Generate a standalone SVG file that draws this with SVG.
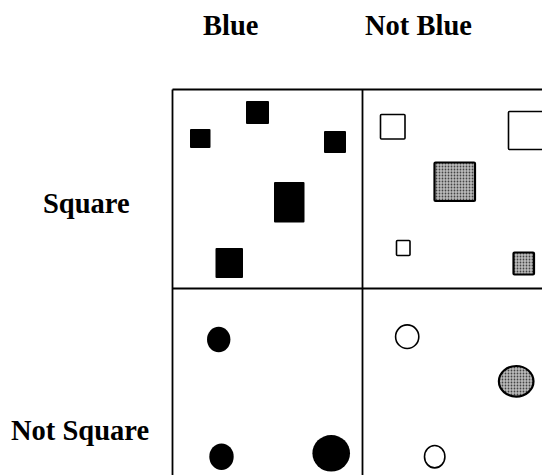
<svg xmlns="http://www.w3.org/2000/svg" width="542" height="475" viewBox="0 0 542 475">
<style>
.lbl{font-family:"Liberation Serif","Times New Roman",serif;font-weight:bold;font-size:28.5px;fill:#000}
.grid{stroke:#000;stroke-width:1.8;fill:none}
.solid{fill:#000}
.hollow{fill:#fff;stroke:#000;stroke-width:1.6}
.stip{fill:url(#dots);stroke:#000;stroke-width:2.2}
</style>
<defs>
<pattern id="dots" width="3" height="3" patternUnits="userSpaceOnUse">
<rect width="3" height="3" fill="#bbb"/>
<circle cx="1.5" cy="1.5" r="0.9" fill="#444"/>
</pattern>
</defs>
<rect width="542" height="475" fill="#fff"/>
<g id="labels">
<text class="lbl" x="203" y="35">Blue</text>
<text class="lbl" x="365" y="35">Not Blue</text>
<text class="lbl" x="43" y="213">Square</text>
<text class="lbl" x="11" y="440">Not Square</text>
</g>
<g id="grid" class="grid">
<line x1="172.5" y1="89.5" x2="542" y2="89.5"/>
<line x1="172.5" y1="288.5" x2="542" y2="288.5"/>
<line x1="172.5" y1="89.5" x2="172.5" y2="475"/>
<line x1="362.5" y1="89.5" x2="362.5" y2="475"/>
</g>
<g id="blue-square">
<rect class="solid" x="246" y="101" width="23" height="23" rx="1"/>
<rect class="solid" x="190" y="129" width="20.5" height="19" rx="1"/>
<rect class="solid" x="324" y="131" width="22" height="22" rx="1"/>
<rect class="solid" x="274" y="182" width="30.5" height="40.5" rx="1"/>
<rect class="solid" x="215.5" y="248" width="27.5" height="30" rx="1"/>
</g>
<g id="notblue-square">
<rect class="hollow" x="380.5" y="114.5" width="24.5" height="24.5" rx="1"/>
<rect class="hollow" x="508.5" y="111.5" width="40" height="38" rx="1"/>
<rect class="stip" x="434.5" y="162.5" width="40.5" height="38.5" rx="1"/>
<rect class="hollow" x="396.5" y="240.5" width="13.5" height="15" rx="1"/>
<rect class="stip" x="513.5" y="252.5" width="20.5" height="22" rx="1"/>
</g>
<g id="blue-notsquare">
<ellipse class="solid" cx="218.7" cy="339.5" rx="11.7" ry="12.8"/>
<ellipse class="solid" cx="221.5" cy="456.7" rx="12.2" ry="13.3"/>
<ellipse class="solid" cx="331.2" cy="453.3" rx="18.8" ry="18.3"/>
</g>
<g id="notblue-notsquare">
<ellipse class="hollow" cx="407.2" cy="336.7" rx="11.6" ry="11.8"/>
<ellipse class="stip" cx="516.2" cy="381.3" rx="17.3" ry="15.3"/>
<ellipse class="hollow" cx="434.7" cy="456.7" rx="10.2" ry="11.2"/>
</g>
</svg>
